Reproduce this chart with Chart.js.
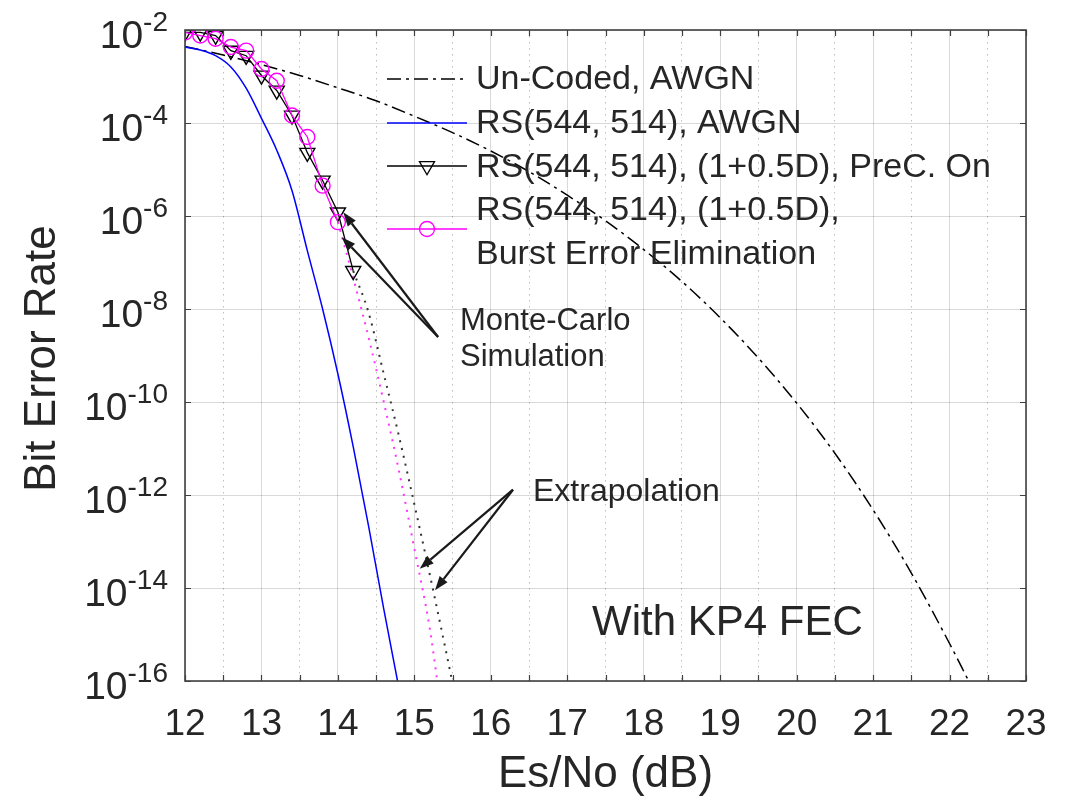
<!DOCTYPE html>
<html><head><meta charset="utf-8">
<script src="https://cdn.jsdelivr.net/npm/chart.js@4.4.0/dist/chart.umd.min.js"></script>
<style>html,body{margin:0;padding:0;background:#fff;}canvas{display:block;}</style>
</head><body>
<canvas id="c" width="1067" height="805"></canvas>
<script>
// ---------------- data ----------------
const uncodedX = [12.0, 12.5, 13.0, 13.5, 14.0, 14.5, 15.0, 15.5, 16.0, 16.5, 17.0, 17.5, 18.0, 18.5, 19.0, 19.5, 20.0, 20.5, 21.0, 21.5, 22.0, 22.25];
const uncodedY = [4.4e-3, 2.9e-3, 1.8e-3, 1.05e-3, 5.7e-4, 3.0e-4, 1.4e-4, 6.2e-5, 2.5e-5, 9e-6, 2.8e-6, 7.9e-7, 1.9e-7, 3.9e-8, 6.5e-9, 8.8e-10, 9.5e-11, 7.9e-12, 4.8e-13, 2.1e-14, 6.4e-16, 1e-16];

const rsX = [12.0, 12.2, 12.4, 12.6, 12.8, 13.0, 13.2, 13.4, 13.6, 13.8, 14.0, 14.2, 14.4, 14.6, 14.78];
const rsY = [4.3e-3, 3.7e-3, 2.8e-3, 1.6e-3, 5.6e-4, 1.26e-4, 2.6e-5, 3.5e-6, 1.8e-7, 1e-8, 4e-10, 1.1e-11, 2.2e-13, 3.5e-15, 1e-16];

const precX = [12.0, 12.2, 12.4, 12.6, 12.8, 13.0, 13.2, 13.4, 13.6, 13.8, 14.0, 14.2];
const precY = [8.9e-3, 8.9e-3, 7.6e-3, 3.6e-3, 2.8e-3, 1.05e-3, 5e-4, 1.45e-4, 2.3e-5, 5.8e-6, 1.2e-6, 6.6e-8];

const burstX = [12.0, 12.2, 12.4, 12.6, 12.8, 13.0, 13.2, 13.4, 13.6, 13.8, 14.0];
const burstY = [8.9e-3, 7.6e-3, 6.5e-3, 4.3e-3, 3.6e-3, 1.45e-3, 8.1e-4, 1.45e-4, 5e-5, 4.5e-6, 7.4e-7];

const precExtX = [14.2, 14.4, 14.6, 14.8, 15.0, 15.2, 15.4, 15.5];
const precExtY = [6.6e-8, 8.5e-9, 4e-10, 1.8e-11, 6.3e-13, 2e-14, 5.6e-16, 9e-17];

const burstExtX = [14.0, 14.2, 14.4, 14.6, 14.8, 15.0, 15.2, 15.3];
const burstExtY = [7.4e-7, 4.7e-8, 2.5e-9, 1e-10, 3.2e-12, 7e-14, 1.4e-15, 1e-16];

const xTickLabels = [12, 13, 14, 15, 16, 17, 18, 19, 20, 21, 22, 23];
const yTickValues = [1e-16, 1e-14, 1e-12, 1e-10, 1e-8, 1e-6, 1e-4, 1e-2];

const legendLabels = [
  ['Un-Coded, AWGN'],
  ['RS(544, 514), AWGN'],
  ['RS(544, 514), (1+0.5D), PreC. On'],
  ['RS(544, 514), (1+0.5D),', 'Burst Error Elimination']
];
// annotation arrows: [tailX, tailY, headX, headY] in data units
const arrows = [
  [15.31, 2.5e-9, 14.07, 1.2e-6],
  [15.31, 2.5e-9, 14.05, 3.5e-7],
  [16.29, 1.3e-12, 15.07, 2.6e-14],
  [16.29, 1.3e-12, 15.27, 9e-15]
];

// ---------------- chart ----------------
const FONT = '"Liberation Sans", Arial, Helvetica, sans-serif';
const TEXT = '#262626';
const zip = (xs, ys) => xs.map((v, i) => ({x: v, y: ys[i]}));
const DASHDOT = [14, 5, 3, 5];
const DOTTED = [2, 6];

const decor = {
  id: 'decor',
  afterDatasetsDraw(chart) {
    const {ctx, chartArea: a, scales: {x, y}} = chart;
    ctx.save();
    ctx.strokeStyle = '#404040';
    ctx.lineWidth = 1.2;
    ctx.beginPath();
    for (const t of x.ticks) {
      const px = Math.round(x.getPixelForValue(t.value)) + 0.5;
      ctx.moveTo(px, a.bottom); ctx.lineTo(px, a.bottom - 6);
      ctx.moveTo(px, a.top); ctx.lineTo(px, a.top + 6);
    }
    for (const t of y.ticks) {
      const py = Math.round(y.getPixelForValue(t.value)) + 0.5;
      ctx.moveTo(a.left, py); ctx.lineTo(a.left + 6, py);
      ctx.moveTo(a.right, py); ctx.lineTo(a.right - 6, py);
    }
    ctx.stroke();
    ctx.lineWidth = 1.6;
    ctx.strokeRect(a.left, a.top, a.right - a.left, a.bottom - a.top);
    ctx.restore();
  },
  afterDraw(chart) {
    const {ctx, chartArea: a, scales: {x, y}} = chart;
    ctx.save();
    ctx.fillStyle = TEXT;
    // x tick labels
    ctx.font = '37px ' + FONT;
    ctx.textAlign = 'center';
    ctx.textBaseline = 'alphabetic';
    for (const v of xTickLabels) ctx.fillText(String(v), x.getPixelForValue(v), 735);
    // y tick labels with superscript
    for (const v of yTickValues) {
      const py = y.getPixelForValue(v);
      const e = '-' + String(Math.round(-Math.log10(v)));
      ctx.font = '28px ' + FONT;
      const ew = ctx.measureText(e).width;
      ctx.textAlign = 'left';
      ctx.fillText(e, 168 - ew, py + 1);
      ctx.font = '39px ' + FONT;
      ctx.textAlign = 'right';
      ctx.fillText('10', 168 - ew, py + 18);
    }
    // axis titles
    ctx.font = '44px ' + FONT;
    ctx.textAlign = 'center';
    ctx.fillText('Es/No (dB)', (a.left + a.right) / 2, 787);
    ctx.save();
    ctx.translate(55, (a.top + a.bottom) / 2 + 3);
    ctx.rotate(-Math.PI / 2);
    ctx.fillText('Bit Error Rate', 0, 0);
    ctx.restore();

    // legend
    const ds = chart.data.datasets;
    const rowCenters = [77, 121, 165, 208, 252];
    const sampleY = [79, 123, 166, 229];
    const x0 = 387, x1 = 467, xm = 427, tx = 476;
    ctx.font = '34px ' + FONT;
    ctx.textAlign = 'left';
    let r = 0;
    for (let i = 0; i < legendLabels.length; i++) {
      const d = ds[i];
      ctx.save();
      ctx.strokeStyle = d.borderColor;
      ctx.lineWidth = d.borderWidth;
      ctx.setLineDash(d.borderDash || []);
      ctx.beginPath();
      ctx.moveTo(x0, sampleY[i]); ctx.lineTo(x1, sampleY[i]);
      ctx.stroke();
      ctx.setLineDash([]);
      if (d.pointStyle === 'triangle') {
        const rr = d.pointRadius, s = Math.sin(Math.PI / 3) * rr, cy = sampleY[i];
        ctx.fillStyle = '#fff';
        ctx.beginPath();
        ctx.moveTo(xm, cy + rr); ctx.lineTo(xm - s, cy - rr / 2); ctx.lineTo(xm + s, cy - rr / 2); ctx.closePath();
        ctx.stroke();
      } else if (d.pointStyle === 'circle') {
        ctx.beginPath();
        ctx.arc(xm, sampleY[i], d.pointRadius, 0, Math.PI * 2);
        ctx.stroke();
      }
      ctx.restore();
      for (const line of legendLabels[i]) {
        ctx.fillText(line, tx, rowCenters[r] + 12);
        r++;
      }
    }

    // annotations
    ctx.font = '31px ' + FONT;
    ctx.fillText('Monte-Carlo', 460, 330);
    ctx.fillText('Simulation', 460, 366);
    ctx.font = '32px ' + FONT;
    ctx.fillText('Extrapolation', 533, 501);
    ctx.font = '42px ' + FONT;
    ctx.fillText('With KP4 FEC', 592, 635);

    ctx.strokeStyle = '#1a1a1a';
    ctx.fillStyle = '#1a1a1a';
    ctx.lineWidth = 2.2;
    for (const [tx0, ty0, hx, hy] of arrows) {
      const X0 = x.getPixelForValue(tx0), Y0 = y.getPixelForValue(ty0);
      const X1 = x.getPixelForValue(hx), Y1 = y.getPixelForValue(hy);
      const ang = Math.atan2(Y1 - Y0, X1 - X0);
      const L = 14, W = 5;
      const bx = X1 - L * Math.cos(ang), by = Y1 - L * Math.sin(ang);
      ctx.beginPath(); ctx.moveTo(X0, Y0); ctx.lineTo(bx, by); ctx.stroke();
      ctx.beginPath();
      ctx.moveTo(X1, Y1);
      ctx.lineTo(bx + W * Math.sin(ang), by - W * Math.cos(ang));
      ctx.lineTo(bx - W * Math.sin(ang), by + W * Math.cos(ang));
      ctx.closePath(); ctx.fill();
    }
    ctx.restore();
  }
};

new Chart(document.getElementById('c'), {
  type: 'line',
  data: {
    datasets: [
      {label: 'Un-Coded, AWGN', data: zip(uncodedX, uncodedY), borderColor: '#000', borderWidth: 1.5,
       borderDash: DASHDOT, pointRadius: 0, cubicInterpolationMode: 'monotone', order: 6},
      {label: 'RS(544, 514), AWGN', data: zip(rsX, rsY), borderColor: '#0000ff', borderWidth: 1.5,
       pointRadius: 0, cubicInterpolationMode: 'monotone', order: 5},
      {label: 'RS(544, 514), (1+0.5D), PreC. On', data: zip(precX, precY), borderColor: '#000', borderWidth: 1.3,
       pointStyle: 'triangle', pointRotation: 180, pointRadius: 8.7, pointBorderWidth: 1.4,
       pointBorderColor: '#000', pointBackgroundColor: 'rgba(0,0,0,0)', order: 2},
      {label: 'RS(544, 514), (1+0.5D), Burst Error Elimination', data: zip(burstX, burstY), borderColor: '#ff00ff', borderWidth: 1.3,
       pointStyle: 'circle', pointRadius: 7.5, pointBorderWidth: 1.4,
       pointBorderColor: '#ff00ff', pointBackgroundColor: 'rgba(0,0,0,0)', order: 1},
      {label: 'ext1', data: zip(precExtX, precExtY), borderColor: '#333', borderWidth: 2,
       borderDash: DOTTED, pointRadius: 0, cubicInterpolationMode: 'monotone', order: 3},
      {label: 'ext2', data: zip(burstExtX, burstExtY), borderColor: '#ff33ff', borderWidth: 2,
       borderDash: DOTTED, pointRadius: 0, cubicInterpolationMode: 'monotone', order: 4}
    ]
  },
  options: {
    responsive: false,
    animation: false,
    devicePixelRatio: 1,
    layout: {padding: {top: 30, right: 41, left: 0, bottom: 0}},
    plugins: {legend: {display: false}, tooltip: {enabled: false}},
    scales: {
      x: {
        type: 'linear', min: 12, max: 23,
        ticks: {stepSize: 0.5, display: false},
        grid: {
          drawTicks: false,
          color: c => (c.tick && c.tick.value % 1 === 0) ? 'rgba(0,0,0,0.15)' : 'rgba(0,0,0,0.25)',
          lineWidth: 1
        },
        border: {display: false, dash: c => (c.tick && c.tick.value % 1 === 0) ? [] : [1.5, 4.5]},
        afterFit: s => { s.height = 124; }
      },
      y: {
        type: 'logarithmic', min: 1e-16, max: 1e-2,
        afterBuildTicks: s => { s.ticks = yTickValues.map(v => ({value: v})); },
        ticks: {display: false},
        grid: {drawTicks: false, color: 'rgba(0,0,0,0.15)', lineWidth: 1},
        border: {display: false},
        afterFit: s => { s.width = 185; }
      }
    }
  },
  plugins: [decor]
});
</script>
</body></html>
